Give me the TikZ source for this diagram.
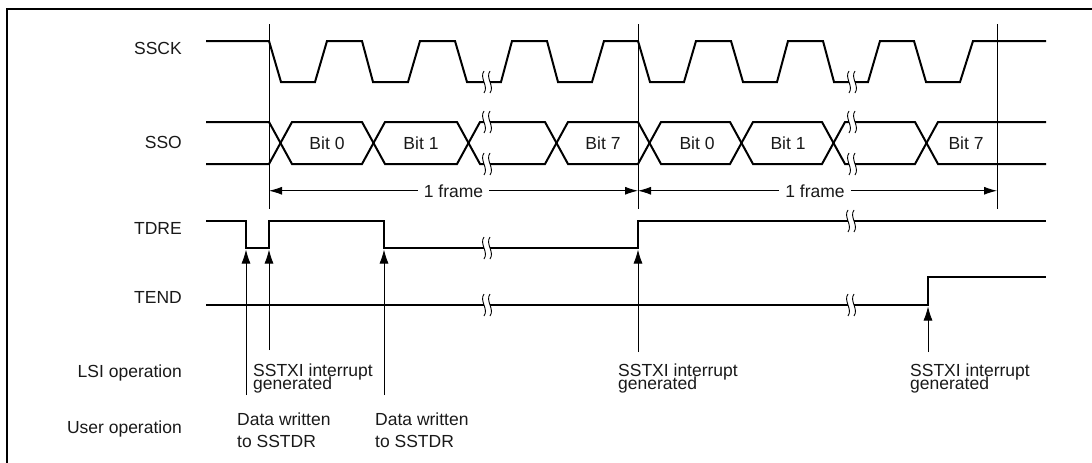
\documentclass[tikz,border=0pt]{standalone}
\usepackage{fontspec}
\setmainfont{Liberation Sans}
\usetikzlibrary{arrows.meta}
\begin{document}
\begin{tikzpicture}[x=1pt,y=-1pt,
  sig/.style={line width=2pt, line join=miter},
  guide/.style={line width=0.9pt},
  lbl/.style={font=\fontsize{17.5}{20}\selectfont, inner sep=0pt, text=black!90},
  upar/.style={line width=0.9pt, -{Latex[length=14pt,width=9pt]}},
  frar/.style={line width=0.9pt, -{Latex[length=13pt,width=8pt]}},
  brk/.pic={
    \fill[white] (-3.2,-4) rectangle (3.2,4);
    \draw[line width=0.9pt] (-3,-11) .. controls (-8,-4) and (2,4) .. (-3,11);
    \draw[line width=0.9pt] (3,-11) .. controls (-2,-4) and (8,4) .. (3,11);
  }
]
\useasboundingbox (0,0) rectangle (1092,463);
% frame
\draw[line width=2.5pt] (7,463) -- (7,9) -- (1092,9);

% signal labels
\node[lbl, anchor=base east] (lsck) at (182,54) {SSCK};
\node[lbl, anchor=base east] (lsso) at (182,148) {SSO};
\node[lbl, anchor=base east] (ltdre) at (182,234) {TDRE};
\node[lbl, anchor=base east] (ltend) at (182,303) {TEND};
\node[lbl, anchor=base east] (llsi) at (182,377) {LSI operation};
\node[lbl, anchor=base east] (luser) at (182,433) {User operation};

% guides
\coordinate (g1t) at (269,24); \coordinate (g1b) at (269,209);
\coordinate (g2t) at (638,24); \coordinate (g2b) at (638,209);
\coordinate (g3t) at (997,24); \coordinate (g3b) at (997,209);
\draw[guide] (g1t) -- (g1b);
\draw[guide] (g2t) -- (g2b);
\draw[guide] (g3t) -- (g3b);

% SSCK
\draw[sig] (206,41) -- (269,41) -- (281,82) -- (315,82) -- (327,41) -- (362,41) -- (373,82) -- (408,82) -- (420,41) -- (455,41) -- (467,82) -- (501,82) -- (512,41) -- (547,41) -- (558,82) -- (592,82) -- (604,41) -- (638,41) -- (650,82) -- (684,82) -- (696,41) -- (731,41) -- (743,82) -- (777,82) -- (788,41) -- (823,41) -- (834,82) -- (868,82) -- (880,41) -- (914,41) -- (926,82) -- (960,82) -- (973,41) -- (1046,41);

% SSO
\draw[sig] (206,122) -- (269,122) -- (292,164) -- (362,164) -- (385,122) -- (457,122) -- (480,164) -- (545,164) -- (568,122) -- (638,122) -- (661,164) -- (730,164) -- (753,122) -- (822,122) -- (845,164) -- (915,164) -- (938,122) -- (1046,122);
\draw[sig] (206,164) -- (269,164) -- (292,122) -- (362,122) -- (385,164) -- (457,164) -- (480,122) -- (545,122) -- (568,164) -- (638,164) -- (661,122) -- (730,122) -- (753,164) -- (822,164) -- (845,122) -- (915,122) -- (938,164) -- (1046,164);
\node[lbl, anchor=base] (b0a) at (327,149) {Bit 0};
\node[lbl, anchor=base] (b1a) at (421,149) {Bit 1};
\node[lbl, anchor=base] (b7a) at (603,149) {Bit 7};
\node[lbl, anchor=base] (b0b) at (697,149) {Bit 0};
\node[lbl, anchor=base] (b1b) at (788,149) {Bit 1};
\node[lbl, anchor=base] (b7b) at (966,149) {Bit 7};

% frames
\node[lbl, anchor=base, inner xsep=6pt] (fr1) at (453.5,197) {1 frame};
\node[lbl, anchor=base, inner xsep=6pt] (fr2) at (815,197) {1 frame};
\draw[frar] (fr1.west) -- (fr1.west -| g1b);
\draw[frar] (fr1.east) -- (fr1.east -| g2b);
\draw[frar] (fr2.west) -- (fr2.west -| g2b);
\draw[frar] (fr2.east) -- (fr2.east -| g3b);

% TDRE
\draw[sig] (206,221) -- (246,221) -- (246,248) -- (269,248) -- (269,221) -- (384,221) -- (384,248) -- (638,248) -- (638,221) -- (1046,221);
% TEND
\draw[sig] (206,305) -- (928,305) -- (928,277) -- (1046,277);

% breaks
\foreach \p in {(487,82),(852,82),(487,122),(487,164),(852,122),(852,164),(487,248),(851,221),(487,305),(851,305)}
  \pic at \p {brk};

% event arrows
\coordinate (t1) at (246,395); \coordinate (h1) at (246,249.5);
\coordinate (t2) at (269,350); \coordinate (h2) at (269,249.5);
\coordinate (t3) at (384,395); \coordinate (h3) at (384,249.5);
\coordinate (t4) at (638,352); \coordinate (h4) at (638,249.5);
\coordinate (t5) at (928,352); \coordinate (h5) at (928,306.5);
\draw[upar] (t1) -- (h1);
\draw[upar] (t2) -- (h2);
\draw[upar] (t3) -- (h3);
\draw[upar] (t4) -- (h4);
\draw[upar] (t5) -- (h5);

% LSI operation texts
\node[lbl, anchor=base west] (s1a) at (253,376.5) {SSTXI interrupt};
\node[lbl, anchor=base west] (s1b) at (253,389.5) {generated};
\node[lbl, anchor=base west] (s2a) at (618,376.5) {SSTXI interrupt};
\node[lbl, anchor=base west] (s2b) at (618,389.5) {generated};
\node[lbl, anchor=base west] (s3a) at (910,376.5) {SSTXI interrupt};
\node[lbl, anchor=base west] (s3b) at (910,389.5) {generated};

% User operation texts
\node[lbl, anchor=base west] (d1a) at (237,425) {Data written};
\node[lbl, anchor=base west] (d1b) at (237,447) {to SSTDR};
\node[lbl, anchor=base west] (d2a) at (375,425) {Data written};
\node[lbl, anchor=base west] (d2b) at (375,447) {to SSTDR};
\end{tikzpicture}
\end{document}
